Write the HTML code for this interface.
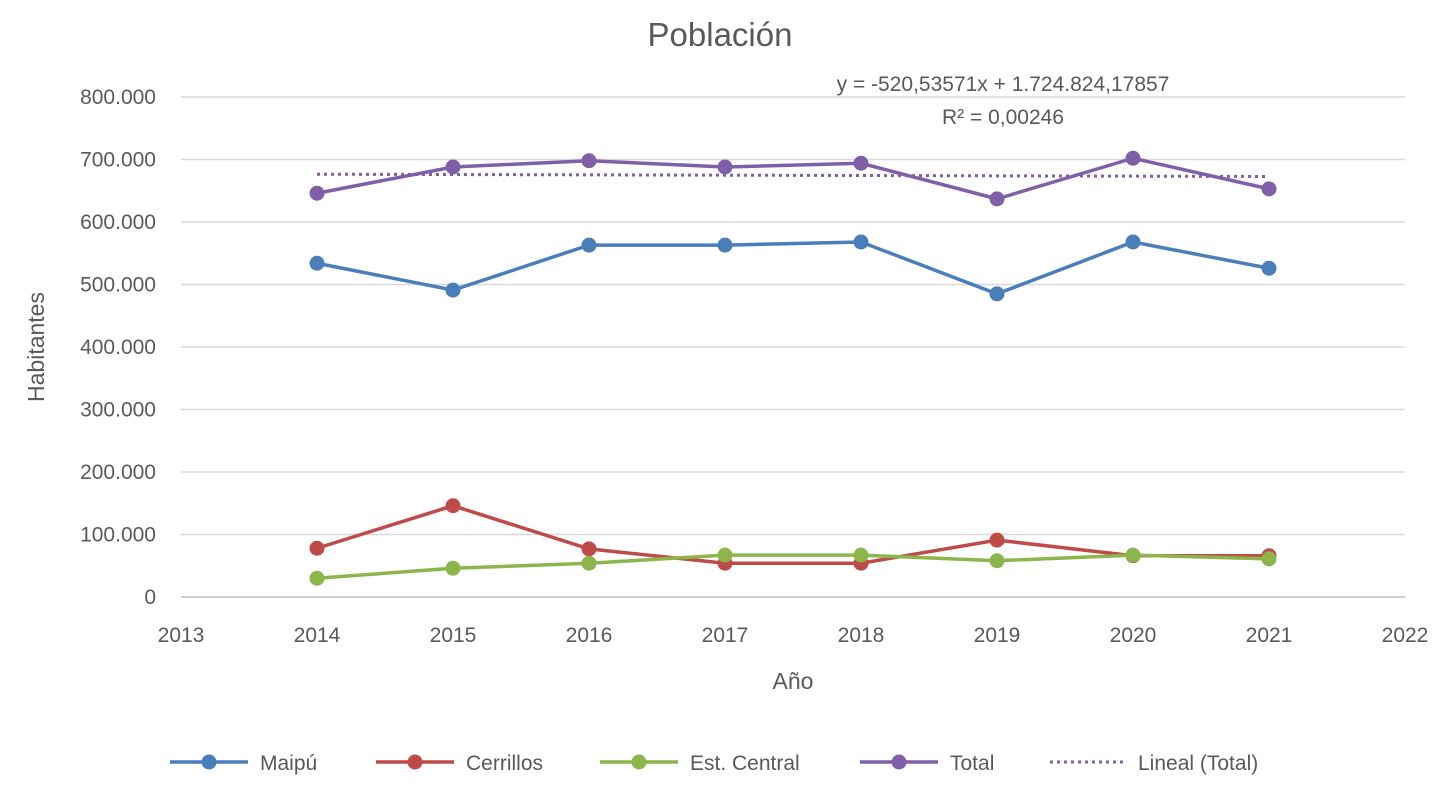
<!DOCTYPE html>
<html><head><meta charset="utf-8"><style>
body{margin:0;background:#fff;}
svg text{font-family:"Liberation Sans",sans-serif;fill:#595959;}
</style></head><body>
<svg id="chart" width="1456" height="799">
<text x="720" y="46" font-size="33" text-anchor="middle">Población</text>
<text x="1003" y="91" font-size="21" text-anchor="middle">y = -520,53571x + 1.724.824,17857</text>
<text x="1003" y="124" font-size="21" text-anchor="middle">R² = 0,00246</text>
<text transform="translate(44,347) rotate(-90)" font-size="23" text-anchor="middle">Habitantes</text>
<text x="793" y="689" font-size="23" text-anchor="middle">Año</text>
<g id="grid"></g><g id="series"></g><g id="legend"></g>
</svg>
<script>
const years=[2014,2015,2016,2017,2018,2019,2020,2021];
const maipu=[534000,491000,563000,563000,568000,485000,568000,526000];
const cerrillos=[78000,146000,77000,54000,54000,91000,66000,66000];
const estCentral=[30000,46000,54000,67000,67000,58000,67000,61000];
const total=[646000,688000,698000,688000,694000,637000,702000,653000];
const yTicks=[0,100000,200000,300000,400000,500000,600000,700000,800000];
const xTicks=[2013,2014,2015,2016,2017,2018,2019,2020,2021,2022];
const trendSlope=-520.53571, trendIntercept=1724824.17857;
const NS="http://www.w3.org/2000/svg";
const X=v=>181+(v-2013)*(1405-181)/9;
const Y=v=>597-v*500/800000;
function mk(t,a,p){const e=document.createElementNS(NS,t);for(const k in a)e.setAttribute(k,a[k]);p.appendChild(e);return e;}
const grid=document.getElementById('grid');
const fmt=v=>v===0?'0':v.toLocaleString('de-DE');
yTicks.forEach(v=>{
 const l=mk('line',{x1:181,x2:1405,y1:Y(v),y2:Y(v),stroke:v===0?'#bfbfbf':'#d9d9d9','stroke-width':1.5},grid);
 
 
 const t=mk('text',{x:156,y:Y(v)+7,'font-size':21,'text-anchor':'end'},grid);t.textContent=fmt(v);
 
 
});
xTicks.forEach(v=>{
 const t=mk('text',{x:X(v),y:642,'font-size':21,'text-anchor':'middle'},grid);t.textContent=v;
 
 
});
const ser=document.getElementById('series');
const tl=mk('line',{x1:X(2014),x2:X(2021),y1:Y(trendSlope*2014+trendIntercept),y2:Y(trendSlope*2021+trendIntercept),stroke:'#7f5fa8','stroke-width':3,'stroke-dasharray':'3 4'},ser);


const S=[['maipu',maipu,'#4a7ebb'],['cerrillos',cerrillos,'#be4b48'],['est-central',estCentral,'#8cb64b'],['total',total,'#7f5fa8']];
S.forEach(([n,d,c])=>{
 const p=mk('polyline',{points:d.map((v,i)=>X(years[i])+','+Y(v)).join(' '),fill:'none',stroke:c,'stroke-width':3.5},ser);
 
 
 d.forEach((v,i)=>{const m=mk('circle',{cx:X(years[i]),cy:Y(v),r:7.5,fill:c},ser);
  
  });
});
const lg=document.getElementById('legend');
const L=[['Maipú','#4a7ebb',170,0],['Cerrillos','#be4b48',376,0],['Est. Central','#8cb64b',600,0],['Total','#7f5fa8',860,0],['Lineal (Total)','#7f5fa8',1050,1]];
L.forEach(([t,c,x,d])=>{
 const g=mk('g',{},lg);
 
 
 if(d){mk('line',{x1:x,x2:x+76,y1:762,y2:762,stroke:c,'stroke-width':3,'stroke-dasharray':'3 4'},g);}
 else{mk('line',{x1:x,x2:x+78,y1:762,y2:762,stroke:c,'stroke-width':3.5},g);mk('circle',{cx:x+39,cy:762,r:7.5,fill:c},g);}
 const tx=mk('text',{x:x+(d?88:90),y:770,'font-size':21},g);tx.textContent=t;
});
</script>
</body></html>
